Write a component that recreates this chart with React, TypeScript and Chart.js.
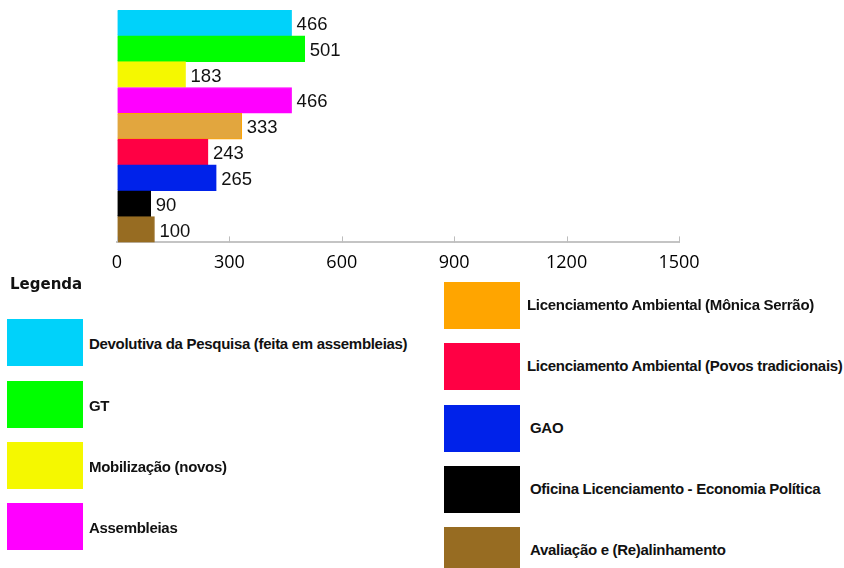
import React, { useEffect, useRef } from "react";
import { Chart, registerables } from "chart.js";

Chart.register(...registerables);

const categories = [
  "Devolutiva da Pesquisa (feita em assembleias)",
  "GT",
  "Mobilização (novos)",
  "Assembleias",
  "Licenciamento Ambiental (Mônica Serrão)",
  "Licenciamento Ambiental (Povos tradicionais)",
  "GAO",
  "Oficina Licenciamento - Economia Política",
  "Avaliação e (Re)alinhamento",
];
const values = [466, 501, 183, 466, 333, 243, 265, 90, 100];
const barColors = ["#00D2FA", "#00FF00", "#F5F800", "#FF00FF", "#E2A63E", "#FF0044", "#0022EA", "#000000", "#976C22"];
const legendColors = ["#00D2FA", "#00FF00", "#F5F800", "#FF00FF", "#FFA500", "#FF0044", "#0022EA", "#000000", "#976C22"];
const xTicks = [0, 300, 600, 900, 1200, 1500];
const legendTitle = "Legenda";

const valueLabels = {
  id: "valueLabels",
  afterDatasetsDraw(chart: any) {
    const { ctx } = chart;
    const meta = chart.getDatasetMeta(0);
    ctx.save();
    ctx.font = "18.5px 'Liberation Sans', Arial, sans-serif";
    ctx.fillStyle = "#111";
    ctx.textBaseline = "middle";
    ctx.textAlign = "left";
    meta.data.forEach((el: any, i: number) => {
      ctx.fillText(String(values[i]), el.x + 5, el.y + 2);
    });
    ctx.restore();
  },
};

const upTicks = {
  id: "upTicks",
  afterDraw(chart: any) {
    const { ctx, chartArea } = chart;
    const xs = chart.scales.x;
    ctx.save();
    ctx.strokeStyle = "#bdbdbd";
    ctx.lineWidth = 1;
    xs.ticks.forEach((t: any) => {
      const px = Math.round(xs.getPixelForValue(t.value)) + 0.5;
      ctx.beginPath();
      ctx.moveTo(px, chartArea.bottom);
      ctx.lineTo(px, chartArea.bottom - 6);
      ctx.stroke();
    });
    ctx.restore();
  },
};

export default function App() {
  const ref = useRef<HTMLCanvasElement | null>(null);
  useEffect(() => {
    if (!ref.current) return;
    const chart = new Chart(ref.current, {
      type: "bar",
      data: {
        labels: categories,
        datasets: [
          {
            data: values,
            backgroundColor: barColors,
            borderColor: legendColors,
            borderWidth: 1,
            barPercentage: 1,
            categoryPercentage: 1,
          },
        ],
      },
      options: {
        indexAxis: "y",
        responsive: false,
        animation: false,
        layout: { padding: { left: 117, right: 165, top: 10, bottom: 6 } },
        plugins: { legend: { display: false }, tooltip: { enabled: false } },
        scales: {
          x: {
            min: 0,
            max: 1500,
            afterBuildTicks: (axis: any) => {
              axis.ticks = xTicks.map((v) => ({ value: v }));
            },
            grid: { display: true, drawOnChartArea: false, drawTicks: false },
            border: { display: true, color: "#c4c4c4", width: 2 },
            ticks: {
              padding: 10,
              color: "#000",
              font: { family: "'Open Sans', sans-serif", size: 18 },
              maxRotation: 0,
              callback: (v: any) => String(v),
            },
          },
          y: { display: false },
        },
      },
      plugins: [valueLabels, upTicks],
    });
    return () => chart.destroy();
  }, []);

  const boxStyle = (c: string): React.CSSProperties => ({
    position: "absolute",
    width: 76,
    height: 47,
    background: c,
  });
  const textStyle: React.CSSProperties = {
    position: "absolute",
    fontFamily: "'Liberation Sans', Arial, sans-serif",
    fontWeight: "bold",
    fontSize: 15,
    letterSpacing: "-0.3px",
    color: "#111",
    whiteSpace: "nowrap",
    lineHeight: "16px",
  };
  const leftTops = [319, 381, 442, 503];
  const rightTops = [282, 343, 405, 466, 527];

  return (
    <div style={{ position: "absolute", left: 0, top: 0, width: 844, height: 568, background: "#fff", overflow: "hidden" }}>
      <canvas ref={ref} width={844} height={290} style={{ position: "absolute", left: 0, top: 0 }} />
      <div
        style={{
          position: "absolute",
          left: 10,
          top: 275,
          fontFamily: "'DejaVu Sans', Verdana, sans-serif",
          fontWeight: "bold",
          fontSize: 15,
          color: "#111",
        }}
      >
        {legendTitle}
      </div>
      {leftTops.map((t, i) => (
        <React.Fragment key={"l" + i}>
          <div style={{ ...boxStyle(legendColors[i]), left: 7, top: t }} />
          <div style={{ ...textStyle, left: 89, top: t + 17 }}>{categories[i]}</div>
        </React.Fragment>
      ))}
      {rightTops.map((t, j) => {
        const i = j + 4;
        return (
          <React.Fragment key={"r" + j}>
            <div style={{ ...boxStyle(legendColors[i]), left: 444, top: t }} />
            <div style={{ ...textStyle, left: j < 2 ? 527 : 530, top: t + 15 }}>{categories[i]}</div>
          </React.Fragment>
        );
      })}
    </div>
  );
}
